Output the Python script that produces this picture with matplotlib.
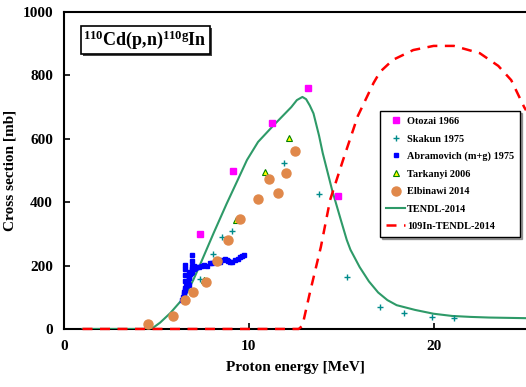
import matplotlib
matplotlib.use("Agg")
import matplotlib.pyplot as plt
from matplotlib.patches import Rectangle

plt.rcParams["font.family"] = ["Liberation Serif", "DejaVu Serif"]
plt.rcParams["font.weight"] = "bold"
plt.rcParams["mathtext.fontset"] = "custom"
plt.rcParams["mathtext.rm"] = "Liberation Serif:bold"
plt.rcParams["mathtext.bf"] = "Liberation Serif:bold"
plt.rcParams["mathtext.default"] = "bf"

# experimental data (MeV, mb)
otozai_e = [7.37, 9.16, 11.27, 13.2, 14.8]
otozai_cs = [300, 498, 650, 760, 420]

skakun_e = [6.56, 7.37, 8.08, 8.56, 9.1, 11.9, 13.8, 15.3, 17.1, 18.4, 19.9, 21.1]
skakun_cs = [104, 158, 237, 290, 309, 523, 426, 164, 69, 50, 38, 35]

abram_e = [6.38, 6.42, 6.47, 6.5, 6.53, 6.56, 6.56, 6.56, 6.56, 6.56, 6.6, 6.65,
           6.7, 6.74, 6.74, 6.74, 6.78, 6.82, 6.86, 6.9, 6.92, 6.92, 6.92, 6.92,
           6.95, 7.01, 7.01, 7.1, 7.2, 7.3, 7.46, 7.6, 7.75, 7.9, 8.0, 8.15, 8.3,
           8.45, 8.55, 8.7, 8.8, 8.9, 9.0, 9.1, 9.27, 9.4, 9.55, 9.65, 9.76]
abram_cs = [91, 100, 110, 118, 124, 128, 150, 170, 190, 202, 135, 142,
            150, 160, 180, 140, 165, 172, 176, 181, 200, 215, 233, 190,
            185, 188, 200, 192, 195, 197, 199, 203, 200, 208, 209, 212, 214,
            211, 218, 220, 216, 214, 210, 212, 218, 222, 226, 229, 233]

tark_e = [7.6, 9.3, 10.9, 12.2]
tark_cs = [155, 344, 495, 603]

elb_e = [4.55, 5.9, 6.56, 7.0, 7.7, 8.3, 8.9, 9.5, 10.5, 11.1, 11.6, 12.0, 12.5]
elb_cs = [16, 41, 91, 117, 148, 215, 281, 347, 410, 473, 429, 492, 561]

# evaluated curves
tendl_e = [1.0, 4.5, 4.8, 5.2, 5.75, 6.2, 6.56, 7.0, 7.4, 8.1, 8.8, 9.4, 9.9,
           10.5, 11.3, 11.8, 12.3, 12.6, 12.9, 13.1, 13.3, 13.5, 13.8, 14.0,
           14.5, 15.0, 15.3, 15.5, 16.0, 16.5, 17.0, 17.5, 18.0, 19.0, 20.0,
           21.0, 22.0, 23.0, 24.0, 25.0]
tendl_cs = [0, 0, 3, 20, 50, 80, 104, 155, 208, 303, 395, 470, 533,
            590, 640, 670, 700, 722, 732, 725, 705, 680, 610, 555,
            440, 340, 281, 250, 195, 150, 115, 91, 75, 60, 48,
            41, 38, 36, 35, 34]

in109_e = [1.0, 12.7, 12.9, 13.3, 13.9, 14.4, 15.1, 15.9, 16.75, 17.1, 17.8,
           18.9, 20.0, 21.1, 22.5, 23.5, 24.2, 24.9, 25.0]
in109_cs = [0, 0, 10, 113, 259, 407, 533, 672, 776, 811, 849,
            880, 893, 893, 870, 830, 785, 700, 690]

fig = plt.figure(figsize=(5.26, 3.87), dpi=100)
ax = fig.add_axes([0.1217, 0.150, 0.8783, 0.819])

ax.plot(tendl_e, tendl_cs, color="#2e9a68", lw=1.5, label="TENDL-2014", zorder=3)
ax.plot(in109_e, in109_cs, color="#ff0000", lw=1.8, ls=(0, (4, 3)),
        label="109In-TENDL-2014", zorder=5, clip_on=False)
ax.plot(otozai_e, otozai_cs, ls="none", marker="s", ms=4.5, color="#ff00ff",
        label="Otozai 1966", zorder=4)
ax.plot(skakun_e, skakun_cs, ls="none", marker="+", ms=4, mew=1, color="#008b8b",
        label="Skakun 1975", zorder=4)
ax.plot(abram_e, abram_cs, ls="none", marker="s", ms=2.2, color="#0000ff",
        label="Abramovich (m+g) 1975", zorder=4)
ax.plot(tark_e, tark_cs, ls="none", marker="^", ms=4, mew=0.8, mfc="#ffff00",
        mec="#008000", label="Tarkanyi 2006", zorder=4)
ax.plot(elb_e, elb_cs, ls="none", marker="o", ms=6.5, color="#e0884a",
        label="Elbinawi 2014", zorder=4)

ax.set_xlim(0, 25)
ax.set_ylim(0, 1000)
ax.set_xticks([0, 10, 20])
ax.set_yticks([0, 200, 400, 600, 800, 1000])
ax.tick_params(direction="in", length=4, width=1.2, labelsize=11, pad=8)
for lab in ax.get_xticklabels() + ax.get_yticklabels():
    lab.set_fontweight("bold")
ax.spines["right"].set_visible(False)
for s in ["left", "bottom", "top"]:
    ax.spines[s].set_linewidth(1.5)

ax.set_xlabel("Proton energy [MeV]", fontsize=11, fontweight="bold", labelpad=6)
ax.set_ylabel("Cross section [mb]", fontsize=11, fontweight="bold", labelpad=4)

title = ax.text(0.042, 0.912, "$^{110}$Cd(p,n)$^{110g}$In", transform=ax.transAxes,
                fontsize=13, fontweight="bold", va="center", ha="left", zorder=9,
                bbox=dict(boxstyle="square,pad=0.15", fc="white", ec="black", lw=1.2))

# drop shadow behind the reaction label box
fig.canvas.draw()
bb = title.get_bbox_patch().get_window_extent()
ax.add_artist(Rectangle((bb.x0 + 2.5, bb.y0 - 2.5), bb.width, bb.height,
                        transform=None, fc="#444444", ec="none", zorder=8))

handles, labels = ax.get_legend_handles_labels()
order = [2, 3, 4, 5, 6, 0, 1]
leg = ax.legend([handles[i] for i in order], [labels[i] for i in order],
                loc="upper left", bbox_to_anchor=(0.68, 0.695),
                frameon=True, fancybox=False, shadow={"ox": 1.5, "oy": -1.5},
                edgecolor="black",
                handlelength=1.8, handletextpad=0.2, labelspacing=0.8,
                borderpad=0.6, borderaxespad=0.2,
                prop={"weight": "bold", "size": 7.4})
leg.get_frame().set_linewidth(1.0)
leg.set_zorder(10)

fig.savefig("out.png", dpi=100)
